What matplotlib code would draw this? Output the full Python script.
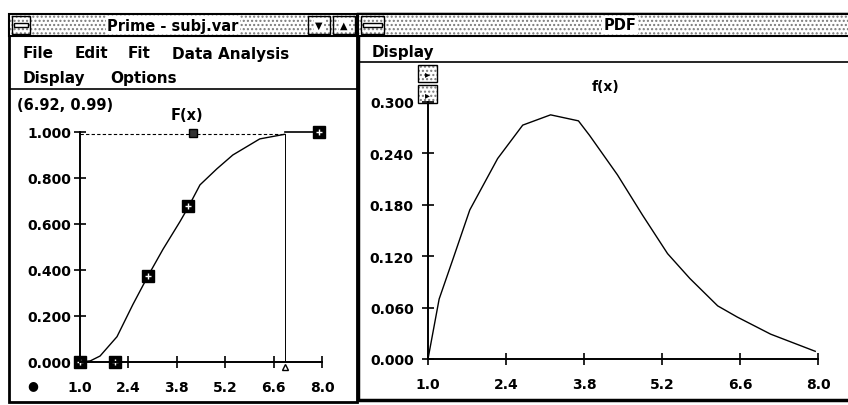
"""Two old-style Windows panels: fitted CDF (left) and PDF (right)."""
import matplotlib
matplotlib.use("Agg")
import matplotlib.pyplot as plt
from matplotlib.patches import Rectangle

plt.rcParams["font.family"] = ["DejaVu Sans"]
plt.rcParams["font.weight"] = "bold"

# ---- data ----
x_ticks = [1.0, 2.4, 3.8, 5.2, 6.6, 8.0]
cdf_ticks = [0.0, 0.2, 0.4, 0.6, 0.8, 1.0]
pdf_ticks = [0.0, 0.06, 0.12, 0.18, 0.24, 0.30]

cdf_x = [1.0, 1.3, 1.58, 2.07, 2.53, 2.97, 3.4, 3.89, 4.12, 4.47, 4.96, 5.42, 6.2, 6.92]
cdf_y = [0.0, 0.005, 0.026, 0.11, 0.25, 0.375, 0.49, 0.61, 0.67, 0.77, 0.84, 0.90, 0.97, 0.99]

obs_x = [1.0, 2.0, 2.97, 4.12, 7.9]
obs_y = [0.0, 0.0, 0.375, 0.68, 1.0]
drag_x = [4.27]
drag_y = [0.995]

cursor_x = 6.92
cursor_y = 0.99
cursor_label = "(6.92, 0.99)"

pdf_x = [1.0, 1.2, 1.45, 1.75, 2.25, 2.7, 3.2, 3.7, 3.9, 4.4, 4.85, 5.3, 5.7, 6.2, 6.55, 7.15, 7.95]
pdf_y = [0.0, 0.07, 0.117, 0.174, 0.234, 0.273, 0.285, 0.278, 0.261, 0.215, 0.168,
         0.123, 0.094, 0.062, 0.049, 0.029, 0.009]

W, H = 848, 406
fig = plt.figure(figsize=(W / 100, H / 100), dpi=100)
fig.patch.set_facecolor("white")

# overlay in pixel coordinates for the window chrome
bg = fig.add_axes([0, 0, 1, 1], zorder=-1)
bg.set_xlim(0, W)
bg.set_ylim(H, 0)
bg.axis("off")


def box(x0, y0, x1, y1, fc="white", lw=1.0, hatch=None, ec="black"):
    if hatch:
        bg.add_patch(Rectangle((x0, y0), x1 - x0, y1 - y0, facecolor=fc,
                               edgecolor="#7a7a7a", hatch=hatch, lw=0))
        fc = "none"
    bg.add_patch(Rectangle((x0, y0), x1 - x0, y1 - y0, facecolor=fc,
                           edgecolor=ec, lw=lw))


def hline(x0, x1, y, lw=1.2):
    bg.plot([x0, x1], [y, y], color="black", lw=lw, solid_capstyle="butt")


def label(x, y, s, size=10.5, ha="left", bbox=False):
    kw = {}
    if bbox:
        kw["bbox"] = dict(facecolor="white", edgecolor="none", pad=1)
    bg.text(x, y, s, fontsize=size, fontweight="bold", ha=ha, va="center", **kw)


# left window
box(9, 15, 357, 403, lw=2.0)
box(9, 15, 357, 37, hatch="....", lw=1.5)
box(12, 17, 30, 35, hatch="....", lw=1.0)
box(14, 24, 28, 28, lw=1.0)
box(308, 17, 330, 35, hatch="....", lw=1.0)
box(333, 17, 355, 35, hatch="....", lw=1.0)
label(319, 26, "\u25bc", size=7, ha="center", bbox=True)
label(344, 26, "\u25b2", size=7, ha="center", bbox=True)
label(173, 26, "Prime - subj.var", size=10.5, ha="center", bbox=True)
for xp, s in [(23, "File"), (75, "Edit"), (128, "Fit"), (172, "Data Analysis")]:
    label(xp, 54, s, size=11)
for xp, s in [(23, "Display"), (110, "Options")]:
    label(xp, 79, s, size=11)
hline(9, 357, 90)
label(17, 105, cursor_label, size=10.5)
label(187, 115, "F(x)", size=10.5, ha="center")
label(33, 386, "\u25cf", size=9, ha="center")

# right window
box(358, 15, 852, 401, lw=2.5)
box(358, 15, 852, 37, hatch="....", lw=1.5)
box(361, 17, 384, 35, hatch="....", lw=1.0)
box(363, 24, 382, 28, lw=1.0)
label(620, 26, "PDF", size=10.5, ha="center", bbox=True)
label(372, 52, "Display", size=11)
hline(358, 852, 63)
box(418, 66, 437, 83, hatch="....", lw=1.0)
box(418, 86, 437, 104, hatch="....", lw=1.0)
label(427.5, 74.5, "\u25b8", size=7, ha="center")
label(427.5, 95, "\u25b8", size=7, ha="center")
label(606, 87, "f(x)", size=10, ha="center")


def px_axes(x0, x1, ytop, ybot):
    return fig.add_axes([x0 / W, 1 - ybot / H, (x1 - x0) / W, (ybot - ytop) / H])


def style(ax, yticks, yfmt, xpad, ypad):
    for side in ("top", "right"):
        ax.spines[side].set_visible(False)
    for side in ("left", "bottom"):
        ax.spines[side].set_linewidth(1.4)
    ax.set_facecolor("none")
    ax.set_xlim(1.0, 8.0)
    ax.set_xticks(x_ticks)
    ax.set_xticklabels([f"{v:.1f}" for v in x_ticks])
    ax.set_yticks(yticks)
    ax.set_yticklabels([yfmt.format(v) for v in yticks])
    ax.tick_params(axis="both", direction="inout", length=8.5, width=1.2, labelsize=10)
    ax.tick_params(axis="x", pad=xpad)
    ax.tick_params(axis="y", pad=ypad)
    for t in ax.get_xticklabels() + ax.get_yticklabels():
        t.set_fontweight("bold")


# left: CDF
ax1 = px_axes(80, 322, 133, 363)
style(ax1, cdf_ticks, "{:.3f}", xpad=9, ypad=2)
ax1.set_ylim(0, 1.0)
ax1.plot(cdf_x, cdf_y, color="black", lw=1.0)
ax1.plot([1.0, cursor_x], [cursor_y, cursor_y], color="black", lw=0.8,
         dashes=(3, 2), clip_on=False)
ax1.plot([cursor_x, cursor_x], [0, cursor_y], color="black", lw=0.7)
ax1.plot([cursor_x, obs_x[-1]], [1.0, 1.0], color="black", lw=1.2, clip_on=False)
ax1.plot(obs_x, obs_y, ls="none", marker="s", ms=8.5, mfc="black", mec="black",
         clip_on=False)
ax1.plot(obs_x, obs_y, ls="none", marker="+", ms=5, mec="white", mew=1,
         clip_on=False)
ax1.plot(drag_x, drag_y, ls="none", marker="s", ms=6, mfc="#333333", mec="black",
         clip_on=False)
ax1.plot([cursor_x], [-0.02], ls="none", marker="^", ms=4, mfc="none", mec="black",
         clip_on=False)

# right: PDF
ax2 = px_axes(428, 818, 103, 360)
style(ax2, pdf_ticks, "{:.3f}", xpad=9, ypad=6)
ax2.set_ylim(0, 0.30)
ax2.plot(pdf_x, pdf_y, color="black", lw=1.0, clip_on=False)

fig.savefig("out.png", dpi=100)
